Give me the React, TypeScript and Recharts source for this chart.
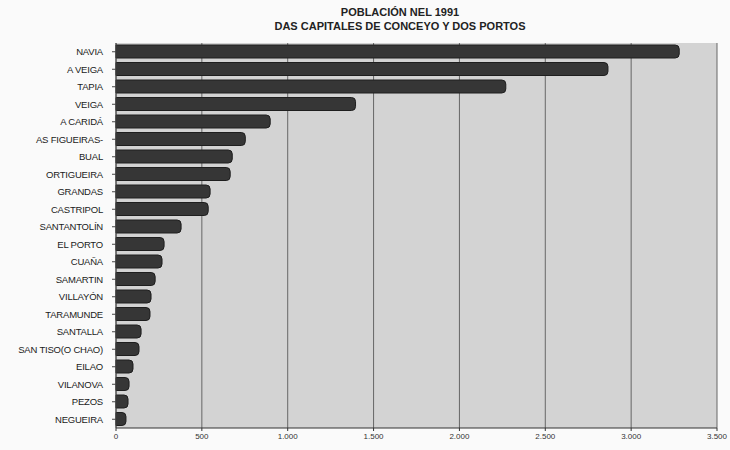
import React from 'react';
import { BarChart, Bar, XAxis, YAxis, CartesianGrid } from 'recharts';

const BAR_COLOR = '#363636';
const PLOT_BG = '#d3d3d3';

const places = [
  'NAVIA', 'A VEIGA', 'TAPIA', 'VEIGA', 'A CARIDÁ', 'AS FIGUEIRAS-', 'BUAL', 'ORTIGUEIRA',
  'GRANDAS', 'CASTRIPOL', 'SANTANTOLÍN', 'EL PORTO', 'CUAÑA', 'SAMARTIN', 'VILLAYÓN',
  'TARAMUNDE', 'SANTALLA', 'SAN TISO(O CHAO)', 'EILAO', 'VILANOVA', 'PEZOS', 'NEGUEIRA',
];

const population = [
  3280, 2865, 2270, 1395, 898, 753, 677, 665,
  548, 537, 379, 280, 268, 228, 204,
  198, 146, 134, 99, 76, 70, 58,
];

const xTicks = [0, 500, 1000, 1500, 2000, 2500, 3000, 3500];

const data = places.map((place, i) => ({ place, value: population[i] }));

const fmt = (v: number) => v.toLocaleString('de-DE');

// plain text tick so long names don't wrap
const PlaceTick = (props: any) => {
  const { x, y, payload } = props;
  return (
    <text x={x} y={y} dy={3.5} textAnchor="end" fontSize={9.5} fill="#1a1a1a" letterSpacing={-0.2}>
      {payload.value}
    </text>
  );
};

export default function App() {
  return (
    <div style={{ position: 'relative', width: 730, height: 450, background: '#fafafa', fontFamily: 'Liberation Sans, Arial, sans-serif' }}>
      <style>{'body{margin:0}'}</style>
      <div
        style={{
          position: 'absolute', left: 0, top: 5, width: 800, textAlign: 'center',
          fontSize: 11, fontWeight: 'bold', lineHeight: '14px', color: '#222',
        }}
      >
        POBLACIÓN NEL 1991
        <br />
        DAS CAPITALES DE CONCEYO Y DOS PORTOS
      </div>
      <BarChart
        width={730}
        height={450}
        data={data}
        layout="vertical"
        margin={{ top: 43, right: 13, left: 0, bottom: 2 }}
        barCategoryGap={4}
      >
        <CartesianGrid horizontal={false} stroke="#666" fill={PLOT_BG} />
        <XAxis
          type="number"
          domain={[0, 3500]}
          ticks={xTicks}
          tickFormatter={fmt}
          height={20}
          tick={{ fontSize: 8, fill: '#333' }}
          stroke="#333"
          tickSize={3}
        />
        <YAxis
          type="category"
          dataKey="place"
          width={116}
          tick={<PlaceTick />}
          stroke="#444"
          tickSize={4}
          tickMargin={9}
          interval={0}
        />
        <Bar
          dataKey="value"
          fill={BAR_COLOR}
          stroke="#1e1e1e"
          barSize={13}
          radius={[0, 4, 4, 0]}
          isAnimationActive={false}
        />
      </BarChart>
    </div>
  );
}
